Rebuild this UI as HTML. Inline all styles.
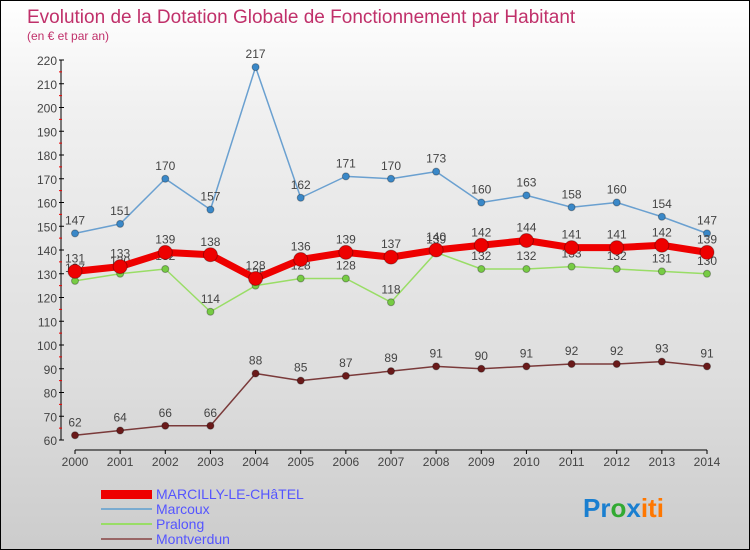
<!DOCTYPE html>
<html><head><meta charset="utf-8"><style>
body{margin:0}
#c{width:748px;height:548px;border:1px solid #000;background:linear-gradient(#fff,#f0f0f0 20%,#ddd 70%,#ccc);position:relative;overflow:hidden;font-family:"Liberation Sans",sans-serif}
</style></head><body>
<div id="c">
<svg id="s" width="748" height="548" style="position:absolute;left:0;top:0" font-family="Liberation Sans, sans-serif">
<text x="26" y="22" font-size="19" fill="#c0306a">Evolution de la Dotation Globale de Fonctionnement par Habitant</text>
<text x="26" y="39" font-size="12" fill="#c0306a">(en € et par an)</text>
<g id="axes"></g><g id="plot"></g>
<g>
<rect x="100" y="489" width="51" height="9" fill="#e00"/>
<text x="155" y="498" font-size="14" fill="#55f">MARCILLY-LE-CHâTEL</text>
<line x1="100" y1="508" x2="151" y2="508" stroke="#7aabd0" stroke-width="2"/>
<text x="155" y="513" font-size="14" fill="#55f">Marcoux</text>
<line x1="100" y1="523" x2="151" y2="523" stroke="#9d6" stroke-width="2"/>
<text x="155" y="528" font-size="14" fill="#55f">Pralong</text>
<line x1="100" y1="538" x2="151" y2="538" stroke="#966" stroke-width="2"/>
<text x="155" y="543" font-size="14" fill="#55f">Montverdun</text>
</g>
<text x="582" y="516" font-size="26" font-weight="bold"><tspan fill="#1a7fd0">Pr</tspan><tspan fill="#3a3">o</tspan><tspan fill="#1a7fd0">x</tspan><tspan fill="#f70">iti</tspan></text>
</svg></div>
<script>
const years=[2000,2001,2002,2003,2004,2005,2006,2007,2008,2009,2010,2011,2012,2013,2014];
const yTicks=[60,70,80,90,100,110,120,130,140,150,160,170,180,190,200,210,220];
const marcilly=[131,133,139,138,128,136,139,137,140,142,144,141,141,142,139];
const marcoux=[147,151,170,157,217,162,171,170,173,160,163,158,160,154,147];
const pralong=[127,130,132,114,125,128,128,118,139,132,132,133,132,131,130];
const montverdun=[62,64,66,66,88,85,87,89,91,90,91,92,92,93,91];
const NS="http://www.w3.org/2000/svg";
const X=i=>74+i*(706-74)/(years.length-1);
const Y=v=>439-(v-60)*(439-59)/160;
function mk(t,a,p){const e=document.createElementNS(NS,t);for(const k in a)e.setAttribute(k,a[k]);p.appendChild(e);return e;}
const ax=document.getElementById('axes'),pl=document.getElementById('plot');
let l=mk('line',{x1:60,y1:59,x2:60,y2:439,stroke:'#000'},ax);


l=mk('line',{x1:74,y1:449,x2:706,y2:449,stroke:'#000'},ax);


yTicks.forEach((v,i)=>{
 mk('line',{x1:58,x2:63,y1:Y(v),y2:Y(v),stroke:'#000'},ax);
 if(i<yTicks.length-1)mk('line',{x1:58,x2:61,y1:Y(v+5),y2:Y(v+5),stroke:'#e00'},ax);
 const t=mk('text',{x:56,y:Y(v)+5,'font-size':12,fill:'#444','text-anchor':'end'},ax);t.textContent=v;
 
 
});
years.forEach((y,i)=>{
 mk('line',{x1:X(i),x2:X(i),y1:449,y2:453,stroke:'#000'},ax);
 const t=mk('text',{x:X(i),y:465,'font-size':12,fill:'#444','text-anchor':'middle'},ax);t.textContent=y;
 
 
});
function series(d,name,col,w,r,dot){
 const g=mk('g',{},pl);
 
 
 mk('polyline',{points:d.map((v,i)=>X(i)+','+Y(v)).join(' '),fill:'none',stroke:col,'stroke-width':w,'stroke-linejoin':'round'},g);
 d.forEach((v,i)=>{
  const c=mk('circle',{cx:X(i),cy:Y(v),r:r,fill:dot,stroke:'rgba(0,0,0,0.3)'},g);
  
  
  const t=mk('text',{x:X(i),y:Y(v)-9,'font-size':12,fill:'#444','text-anchor':'middle'},g);t.textContent=v;
 });
}
series(montverdun,'montverdun','#7a3a3a',1.5,3.5,'#6a1a1a');
series(pralong,'pralong','#9d6',1.5,3.5,'#7c4');
series(marcoux,'marcoux','#6aa0d0',1.5,3.5,'#3a88c8');
series(marcilly,'marcilly','#e00',7,7,'#e00');
</script>
</body></html>
